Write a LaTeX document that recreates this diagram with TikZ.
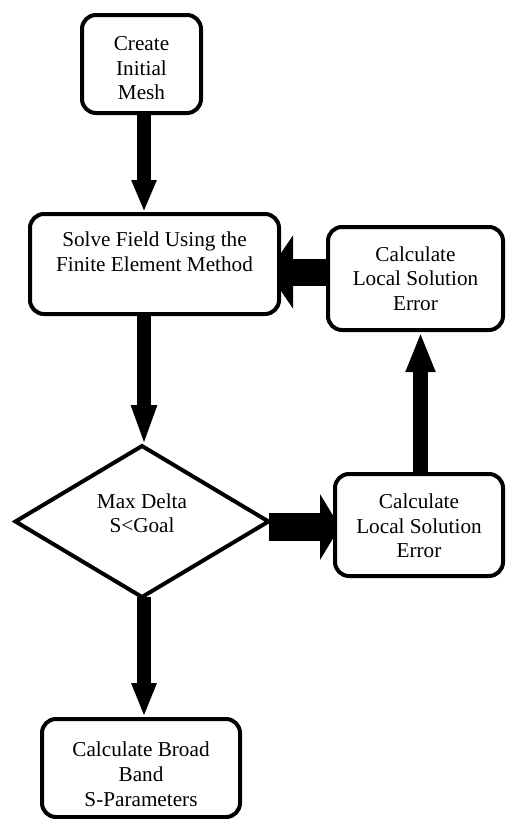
\documentclass[tikz,border=0pt]{standalone}
\usepackage{fontspec}
\setmainfont{Liberation Serif}
\usetikzlibrary{arrows.meta,shapes.geometric,backgrounds}

\tikzset{
  every node/.style={font=\fontsize{21.2}{24.6}\selectfont, align=center, inner sep=0pt},
  stepbox/.style={draw=black, fill=white, line width=4pt, rounded corners=14pt},
  decision/.style={draw=black, fill=white, line width=4pt, shape=diamond, outer sep=0pt},
  vflow/.style={draw=black, line width=14pt, -{Triangle[width=23pt,length=#1]}}
}

\begin{document}
\begin{tikzpicture}[x=1pt, y=-1pt]
  \useasboundingbox (0,0) rectangle (506,819);

  % process steps
  \node[stepbox, minimum width=119pt, minimum height=98pt, text height=72pt] (init) at (141.5,64)
    {Create\\Initial\\Mesh};
  \node[stepbox, minimum width=249pt, minimum height=100pt] (solve) at (154.5,264)
    {Solve Field Using the\\Finite Element Method\\\mbox{}};
  \node[stepbox, minimum width=175pt, minimum height=103pt] (errA) at (415.5,278.5)
    {Calculate\\Local Solution\\Error};
  \node[decision, minimum width=253pt, minimum height=151pt] (check) at (142,521.5)
    {Max Delta\\S<Goal\\[-8pt]\mbox{}};
  \node[stepbox, minimum width=168pt, minimum height=102pt, text height=66pt] (errB) at (419,525)
    {Calculate\\Local Solution\\Error};
  \node[stepbox, minimum width=198pt, minimum height=98pt, text height=76.5pt] (spar) at (141,768)
    {Calculate Broad\\Band\\S-Parameters};

  % column of the main flow, and the lines of the side connectors
  \coordinate (xC) at (144,0);
  \coordinate (xR) at (420.5,0);
  \coordinate (yA) at (0,272);
  \coordinate (yB) at (0,527);

  \begin{scope}[on background layer]
    \draw[vflow=32pt] (init.south -| xC) -- (solve.north -| xC);
    \draw[vflow=41pt] (solve.south -| xC) -- (check.north -| xC);
    \draw[vflow=34pt] (check.south -| xC) -- (spar.north -| xC);
    \draw[line width=15pt, -{Triangle[width=27pt,length=40pt]}]
      (errB.north -| xR) -- (errA.south -| xR);
    \draw[line width=27pt, -{Triangle[width=72pt,length=25pt]}, shorten >=-13pt]
      (errA.west |- yA) -- (solve.east |- yA);
    \draw[line width=28pt, -{Triangle[width=65pt,length=20pt]}, shorten >=-7pt]
      (check.east |- yB) -- (errB.west |- yB);
  \end{scope}
\end{tikzpicture}
\end{document}
